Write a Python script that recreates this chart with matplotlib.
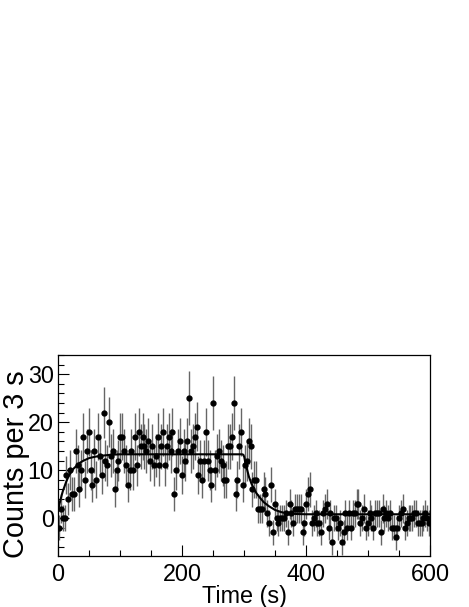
import numpy as np
import matplotlib
matplotlib.use("Agg")
import matplotlib.pyplot as plt
from matplotlib.ticker import MultipleLocator

plt.rcParams['font.family'] = ['Liberation Sans', 'DejaVu Sans']

# background-subtracted counts, 3 s bins from 0 to 600 s
bin_width = 3.0
counts = [
    -2, 2, 0, 0, 9, 4, 10, 5, 5, 14, 11, 6, 10, 17, 8, 14, 18, 10, 7, 14,
    8, 17, 13, 9, 22, 12, 11, 20, 13, 14, 6, 10, 12, 17, 17, 14, 11, 7, 10, 14,
    10, 17, 11, 18, 15, 17, 15, 14, 16, 12, 15, 11, 13, 17, 11, 15, 18, 11, 15, 17,
    14, 18, 5, 10, 14, 16, 9, 14, 12, 16, 25, 14, 15, 17, 19, 9, 12, 8, 12, 18,
    12, 10, 7, 24, 10, 13, 14, 12, 11, 8, 8, 15, 15, 17, 24, 5, 8, 15, 18, 7,
    11, 12, 16, 15, 6, 8, 8, 2, 2, 2, 6, 5, 1, -1, 7, -3, 3, 0, -1, 0,
    0, 0, 1, -3, 3, 1, -1, 2, 2, 2, 2, -3, -1, 3, 5, 6, -1, 0, 1, -1,
    -1, -3, 1, 2, 3, -2, 1, -5, 0, 0, -2, -1, -5, -3, 1, -2, 1, -2, 1, 1,
    3, 3, -1, 0, 2, -2, -1, 1, 0, -2, 1, 1, 1, -3, 2, 0, 1, 0, 1, -2,
    -2, -4, -2, 0, 1, 2, -2, -1, 0, 0, 0, 1, 1, -1, -1, -1, 0, 1, 0, -1,
]
# subtracted background per bin, enters the statistical error
background = 3.5

# fitted curve
fit_t = [0, 1, 2.5, 4, 6, 8, 10, 13, 17, 21, 25, 30, 35, 40, 50, 60, 70, 85, 100,
         297, 299, 300.5, 302, 304, 308, 312, 316, 320, 326, 332, 340, 350, 360,
         370, 385, 400, 600]
fit_y = [1.3, 2.1, 3.0, 3.8, 4.8, 5.7, 6.4, 7.5, 8.7, 9.6, 10.3, 10.9, 11.5, 11.9,
         12.5, 12.8, 13.0, 13.2, 13.3, 13.3, 13.2, 12.7, 11.6, 10.6, 8.6, 7.2, 6.1,
         5.2, 4.2, 3.3, 2.5, 1.7, 1.25, 1.0, 0.85, 0.8, 0.8]


def plot_counts():
    n = np.array(counts, dtype=float)
    t = (np.arange(len(n)) + 0.5) * bin_width
    err = np.sqrt(np.clip(n, 0, None) + 2 * background)

    fig = plt.figure(figsize=(4.69, 6.07), dpi=100)
    ax = fig.add_axes([58 / 469, 1 - 556 / 607, 372 / 469, 201 / 607])

    ax.errorbar(t, n, yerr=err, fmt='none', ecolor='0.4', elinewidth=1.0, zorder=2)
    ax.plot(t, n, 'o', color='black', markersize=3.5, zorder=3)
    ax.plot(fit_t, fit_y, color='black', linewidth=1.5, zorder=4)

    ax.set_xlim(0, 600)
    ax.set_ylim(-7.9, 34)
    ax.xaxis.set_major_locator(MultipleLocator(200))
    ax.xaxis.set_minor_locator(MultipleLocator(50))
    ax.yaxis.set_major_locator(MultipleLocator(10))
    ax.yaxis.set_minor_locator(MultipleLocator(2))
    ax.tick_params(which='both', direction='in', labelsize=16.8, width=0.8)
    ax.tick_params(which='major', length=8)
    ax.tick_params(which='minor', length=4.5)
    ax.tick_params(axis='x', pad=5)
    ax.tick_params(axis='y', pad=3)
    for s in ax.spines.values():
        s.set_linewidth(0.9)

    ax.set_xlabel('Time (s)', fontsize=16.8, labelpad=-1)
    ax.set_ylabel('Counts per 3 s', fontsize=20.8)
    ax.yaxis.set_label_coords(-0.075, 0.457)

    fig.savefig('out.png', dpi=100)


def main():
    plot_counts()


if __name__ == "__main__":
    main()
